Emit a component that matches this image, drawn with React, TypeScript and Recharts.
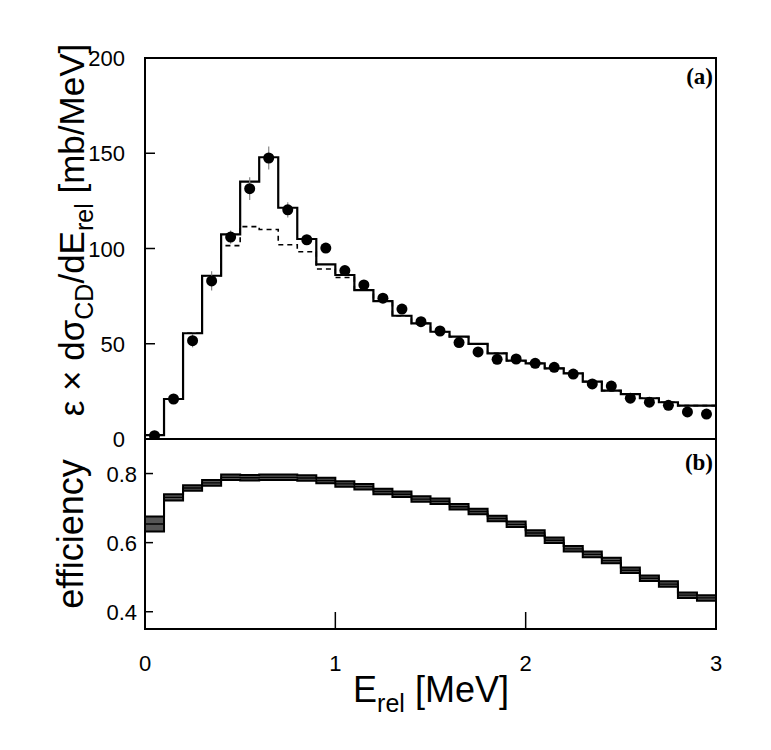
import React from "react";
import {
  ComposedChart,
  Line,
  Area,
  Scatter,
  ErrorBar,
  XAxis,
  YAxis,
  ReferenceArea,
} from "recharts";

// 30 bins of 0.1 MeV from 0 to 3 MeV
const binWidth = 0.1;
const nBins = 30;

// panel (a): solid histogram (full calculation)
const solidHist = [
  2, 21, 55.5, 85.7, 107.4, 135.1, 147.9, 121.4, 105, 91.7, 86.1, 78.2, 72.4, 64.7, 60.7,
  56.3, 53.7, 49.9, 45, 41.1, 39.7, 37.1, 34.5, 30.1, 25.4, 23.6, 21.4, 19.3, 17.5, 17.5,
];

// panel (a): dashed histogram (without resonance)
const dashedHist = [
  2, 21, 55.5, 85.7, 101.5, 111.5, 110, 102, 98.3, 89.2, 84.8, 78.2, 72.4, 64.7, 60.7,
  56.3, 53.7, 49.9, 45, 41.1, 39.7, 37.1, 34.5, 30.1, 25.4, 23.6, 21.4, 19.3, 17.5, 17.5,
];

// panel (a): measured points at bin centres
const dataValues = [
  1.7, 21, 51.6, 83, 106, 131.4, 147.5, 120.3, 104.6, 100.2, 88.4, 80.9, 73.9, 68.2, 61.6,
  56.7, 50.6, 45.7, 41.8, 42, 39.7, 37.6, 34.1, 28.9, 27.8, 21.4, 19.3, 17.7, 14.2, 13.1,
];
const dataErrors = [
  1, 2, 3.5, 5, 3.5, 6, 6, 4, 2.5, 2.5, 2, 2, 2, 2, 1.5,
  1.5, 1.5, 1.5, 1.5, 1.5, 1.5, 1.5, 1.5, 1.5, 1.5, 1.5, 1.5, 1.5, 1.5, 1.5,
];

// panel (b): efficiency and its uncertainty band
const efficiency = [
  0.654, 0.731, 0.758, 0.773, 0.789, 0.788, 0.789, 0.789, 0.787, 0.78, 0.77, 0.762, 0.748, 0.74, 0.726,
  0.72, 0.704, 0.69, 0.67, 0.653, 0.628, 0.607, 0.582, 0.566, 0.548, 0.52, 0.497, 0.48, 0.448, 0.44,
];
const effErrors = [
  0.022, 0.009, 0.008, 0.008, 0.008, 0.008, 0.008, 0.008, 0.008, 0.008, 0.008, 0.008, 0.008, 0.008, 0.008,
  0.008, 0.008, 0.008, 0.008, 0.008, 0.008, 0.008, 0.008, 0.008, 0.008, 0.008, 0.008, 0.008, 0.008, 0.008,
];

const topTicks = [0, 50, 100, 150, 200];
const effTicks = [0.4, 0.6, 0.8];
const xTicks = [0, 1, 2, 3];

// step tables: one row per bin edge, last edge repeats the last bin
const edgeX = (i: number) => Number((i * binWidth).toFixed(1));
const toSteps = (bins: number[]) =>
  Array.from({ length: nBins + 1 }, (_, i) => ({ x: edgeX(i), y: bins[Math.min(i, nBins - 1)] }));

const solidSteps = toSteps(solidHist);
const dashedSteps = toSteps(dashedHist);
const points = dataValues.map((v, i) => ({
  x: Number(((i + 0.5) * binWidth).toFixed(2)),
  y: v,
  err: dataErrors[i],
}));
const effSteps = Array.from({ length: nBins + 1 }, (_, i) => {
  const k = Math.min(i, nBins - 1);
  return {
    x: edgeX(i),
    y: efficiency[k],
    band: [efficiency[k] - effErrors[k], efficiency[k] + effErrors[k]],
  };
});

const FONT = "'Liberation Sans', Arial, Helvetica, sans-serif";
const SERIF = "'Liberation Serif', 'Times New Roman', serif";

const W = 771;
const H = 750;
const margins = { left: 0, right: 55 };

const TopYTick = (props: any) => {
  const { x, y, payload } = props;
  const v = payload.value;
  return (
    <g>
      {v > 0 && v < 200 && <line x1={x} x2={x + 10} y1={y} y2={y} stroke="#000" strokeWidth={1.5} />}
      <text x={x - 20} y={y} dy={8} textAnchor="end" fontSize={22} fontFamily={FONT} fill="#000">
        {v}
      </text>
    </g>
  );
};

const EffYTick = (props: any) => {
  const { x, y, payload } = props;
  return (
    <g>
      <line x1={x} x2={x + 8} y1={y} y2={y} stroke="#000" strokeWidth={1.5} />
      <text x={x - 8} y={y} dy={8} textAnchor="end" fontSize={22} fontFamily={FONT} fill="#000">
        {payload.value.toFixed(1)}
      </text>
    </g>
  );
};

const XTick = (props: any) => {
  const { x, y, payload } = props;
  const v = payload.value;
  return (
    <g>
      {v > 0 && v < 3 && <line x1={x} x2={x} y1={y} y2={y - 17} stroke="#000" strokeWidth={1.5} />}
      <text x={x} y={y + 42} textAnchor="middle" fontSize={22} fontFamily={FONT} fill="#000">
        {v}
      </text>
    </g>
  );
};

const Dot = (props: any) => <circle cx={props.cx} cy={props.cy} r={5.5} fill="#000" />;

const App = () => {
  return (
    <div style={{ position: "absolute", left: 0, top: 0, width: W, height: H, background: "#fff" }}>
      {/* panel (a) */}
      <div style={{ position: "absolute", left: 0, top: 0 }}>
        <ComposedChart width={W} height={460} margin={{ top: 58, bottom: 21, ...margins }}>
          <XAxis type="number" dataKey="x" domain={[0, 3]} hide allowDataOverflow />
          <YAxis
            type="number"
            dataKey="y"
            domain={[0, 200]}
            ticks={topTicks}
            width={145}
            axisLine={false}
            tickLine={false}
            tickSize={0}
            tickMargin={0}
            tick={TopYTick}
            allowDataOverflow
            interval={0}
          />
          <Line
            data={dashedSteps}
            dataKey="y"
            type="stepAfter"
            stroke="#000"
            strokeWidth={1.6}
            strokeDasharray="5 4"
            dot={false}
            isAnimationActive={false}
          />
          <Line
            data={solidSteps}
            dataKey="y"
            type="stepAfter"
            stroke="#000"
            strokeWidth={2.2}
            dot={false}
            isAnimationActive={false}
          />
          <Scatter data={points} dataKey="y" shape={Dot} isAnimationActive={false}>
            <ErrorBar dataKey="err" direction="y" width={0} stroke="#888" strokeWidth={1.2} />
          </Scatter>
          <ReferenceArea x1={0} x2={3} y1={0} y2={200} fill="none" stroke="#000" strokeWidth={2} />
        </ComposedChart>
      </div>

      {/* panel (b) */}
      <div style={{ position: "absolute", left: 0, top: 0 }}>
        <ComposedChart width={W} height={H} margin={{ top: 439, bottom: 0, ...margins }}>
          <XAxis
            type="number"
            dataKey="x"
            domain={[0, 3]}
            ticks={xTicks}
            height={121}
            axisLine={false}
            tickLine={false}
            tickSize={0}
            tickMargin={0}
            tick={XTick}
            allowDataOverflow
            interval={0}
          />
          <YAxis
            type="number"
            dataKey="y"
            domain={[0.35, 0.9]}
            ticks={effTicks}
            width={145}
            axisLine={false}
            tickLine={false}
            tickSize={0}
            tickMargin={0}
            tick={EffYTick}
            allowDataOverflow
            interval={0}
          />
          <Area
            data={effSteps}
            dataKey="band"
            type="stepAfter"
            stroke="#000"
            strokeWidth={2}
            fill="#555"
            fillOpacity={1}
            isAnimationActive={false}
          />
          <Line
            data={effSteps}
            dataKey="y"
            type="stepAfter"
            stroke="#000"
            strokeWidth={1.4}
            dot={false}
            isAnimationActive={false}
          />
          <ReferenceArea x1={0} x2={3} y1={0.35} y2={0.9} fill="none" stroke="#000" strokeWidth={2} />
        </ComposedChart>
      </div>

      {/* axis titles and panel labels */}
      <svg width={W} height={H} style={{ position: "absolute", left: 0, top: 0, pointerEvents: "none" }}>
        <text transform="translate(84,230) rotate(-90)" textAnchor="middle" fontSize={35} fontFamily={FONT} fill="#000">
          <tspan>ε × dσ</tspan>
          <tspan fontSize={25} dy={9}>CD</tspan>
          <tspan dy={-9}>/dE</tspan>
          <tspan fontSize={25} dy={9}>rel</tspan>
          <tspan dy={-9}> [mb/MeV]</tspan>
        </text>
        <text transform="translate(83,534) rotate(-90)" textAnchor="middle" fontSize={36} fontFamily={FONT} fill="#000">
          efficiency
        </text>
        <text x={431} y={702} textAnchor="middle" fontSize={36} fontFamily={FONT} fill="#000">
          <tspan>E</tspan>
          <tspan fontSize={25} dy={10}>rel</tspan>
          <tspan dy={-10}> [MeV]</tspan>
        </text>
        <text x={713} y={84} textAnchor="end" fontSize={23} fontWeight="bold" fontFamily={SERIF} fill="#000">
          (a)
        </text>
        <text x={713} y={470} textAnchor="end" fontSize={23} fontWeight="bold" fontFamily={SERIF} fill="#000">
          (b)
        </text>
      </svg>
    </div>
  );
};

export default App;
